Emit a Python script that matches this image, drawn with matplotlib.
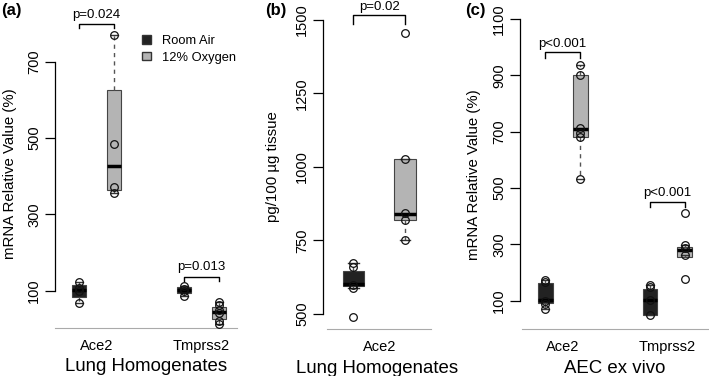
import matplotlib
matplotlib.use("Agg")
import matplotlib.pyplot as plt
from matplotlib.patches import Patch

plt.rcParams["font.family"] = ["Liberation Sans", "DejaVu Sans"]

# --- data ---
room_col = "#222222"
oxy_col = "#b4b4b4"

# panel (a): lung homogenates, mRNA (%)
a_labels = ["Ace2", "Tmprss2"]
a_pos = [1, 2, 4, 5]
a_q1 = [83, 363, 93, 25]
a_med = [102, 427, 101, 45]
a_q3 = [115, 627, 109, 58]
a_lo = [67, 355, 86, 12]
a_hi = [124, 771, 113, 71]
a_pts = [[67, 99, 106, 124], [355, 371, 484, 771],
         [86, 99, 104, 113], [12, 20, 41, 49, 62, 71]]

# panel (b): lung homogenates, pg/100 ug
b_labels = ["Ace2"]
b_pos = [1, 2]
b_q1 = [594, 820]
b_med = [602, 838]
b_q3 = [646, 1025]
b_lo = [590, 752]
b_hi = [672, 1025]
b_pts = [[491, 590, 600, 659, 672], [752, 820, 843, 1028, 1453]]

# panel (c): AEC ex vivo, mRNA (%)
c_labels = ["Ace2", "Tmprss2"]
c_pos = [1, 2, 4, 5]
c_q1 = [91, 683, 49, 256]
c_med = [102, 709, 102, 280]
c_q3 = [162, 901, 140, 292]
c_lo = [69, 531, 49, 262]
c_hi = [173, 937, 156, 298]
c_pts = [[69, 88, 100, 167, 173], [531, 683, 695, 712, 901, 937],
         [49, 102, 148, 156], [176, 262, 286, 298, 410]]

W, H = 709, 376
fig = plt.figure(figsize=(W / 100, H / 100), dpi=100)


def make_ax(left, right, bottom, top=0):
    return fig.add_axes([left / W, (H - bottom) / H, (right - left) / W, (bottom - top) / H])


def draw_panel(ax, pos, q1, med, q3, lo, hi, pts, width, xlim, ylim, yticks,
               group_labels, ylabel, xlabel, brackets, line_start):
    stats = []
    for i in range(len(pos)):
        stats.append(dict(q1=q1[i], med=med[i], q3=q3[i], whislo=lo[i], whishi=hi[i]))
    bp = ax.bxp(stats, positions=pos, widths=width, capwidths=width * 0.5,
                patch_artist=True, showfliers=False,
                boxprops=dict(edgecolor="#444444", linewidth=0.8),
                medianprops=dict(color="black", linewidth=2.5),
                whiskerprops=dict(color="#555555", linestyle=(0, (3, 3)), linewidth=1),
                capprops=dict(color="#333333", linewidth=1))
    for i, box in enumerate(bp["boxes"]):
        box.set_facecolor(room_col if i % 2 == 0 else oxy_col)
    for p, vals in zip(pos, pts):
        ax.plot([p] * len(vals), vals, "o", mfc="none", mec="#111111", ms=5.5, mew=0.9,
                zorder=5, clip_on=False)

    ax.set_xlim(*xlim)
    ax.set_ylim(*ylim)
    ax.set_yticks(yticks)
    ax.set_yticklabels([str(t) for t in yticks], rotation=90, va="center", fontsize=10.5)
    ax.tick_params(axis="y", length=7, width=0.9, pad=3)
    centers = [(pos[2 * k] + pos[2 * k + 1]) / 2 for k in range(len(group_labels))]
    ax.set_xticks(centers)
    ax.set_xticklabels(group_labels, fontsize=10.5)
    ax.tick_params(axis="x", length=0, pad=8)
    for s in ["top", "right"]:
        ax.spines[s].set_visible(False)
    ax.spines["left"].set_bounds(yticks[0], yticks[-1])
    ax.spines["left"].set_linewidth(0.9)
    ax.spines["bottom"].set_color("#aaaaaa")
    ax.spines["bottom"].set_bounds(line_start, xlim[1])
    ax.patch.set_alpha(0)

    ax.set_ylabel(ylabel, fontsize=10.8)
    ax.yaxis.label.set_va("center")
    ax.set_xlabel(xlabel, fontsize=13.4)
    ax.xaxis.set_label_coords(0.5, -0.118)
    ax.xaxis.label.set_va("center")

    for x0, x1, ytop, ybot, ytxt, txt in brackets:
        ax.plot([x0, x0, x1, x1], [ybot, ytop, ytop, ybot], color="black", lw=1, clip_on=False)
        ax.text((x0 + x1) / 2, ytxt, txt, ha="center", va="center", fontsize=9.5)


# (a)
ax_a = make_ax(55, 237, 328)
draw_panel(ax_a, a_pos, a_q1, a_med, a_q3, a_lo, a_hi, a_pts, 0.4,
           (0.314, 5.514), (2.2, 861.9), [100, 300, 500, 700], a_labels,
           "mRNA Relative Value (%)", "Lung Homogenates",
           [(1, 2, 799, 788, 823, "p=0.024"), (4, 5, 137, 126, 161, "p=0.013")],
           0.314)
ax_a.yaxis.set_label_coords(-45 / 182, 1 - 174 / 328)
ax_a.legend(handles=[Patch(facecolor=room_col, edgecolor="#333333"),
                     Patch(facecolor=oxy_col, edgecolor="#333333")],
            labels=["Room Air", "12% Oxygen"], loc="upper left",
            bbox_to_anchor=(137 / W, (H - 30) / H), bbox_transform=fig.transFigure,
            frameon=False, fontsize=9.3, handlelength=0.65, handleheight=0.65,
            handletextpad=0.9, labelspacing=0.35, borderaxespad=0)

# (b)
ax_b = make_ax(323, 431, 329.3)
draw_panel(ax_b, b_pos, b_q1, b_med, b_q3, b_lo, b_hi, b_pts, 0.41,
           (0.408, 2.505), (448, 1566.7), [500, 750, 1000, 1250, 1500], b_labels,
           "pg/100 µg tissue", "Lung Homogenates",
           [(1, 2, 1516, 1485, 1544, "p=0.02")], 0.49)
ax_b.yaxis.set_label_coords(-50 / 108, 1 - 167 / 329.3)

# (c)
ax_c = make_ax(520, 709, 329.3)
draw_panel(ax_c, c_pos, c_q1, c_med, c_q3, c_lo, c_hi, c_pts, 0.42,
           (0.273, 5.695), (-1.6, 1168), [100, 300, 500, 700, 900, 1100], c_labels,
           "mRNA Relative Value (%)", "AEC ex vivo",
           [(1, 2, 982, 961, 1012, "p<0.001"), (4, 5, 452, 432, 484, "p<0.001")],
           0.33)
ax_c.yaxis.set_label_coords(-46 / 189, 1 - 175 / 329.3)

# panel letters
for x, lab in [(1, "(a)"), (265, "(b)"), (465, "(c)")]:
    fig.text(x / W, (H - 10) / H, lab, fontsize=12, fontweight="bold", va="center", ha="left")

fig.savefig("out.png", dpi=100)
